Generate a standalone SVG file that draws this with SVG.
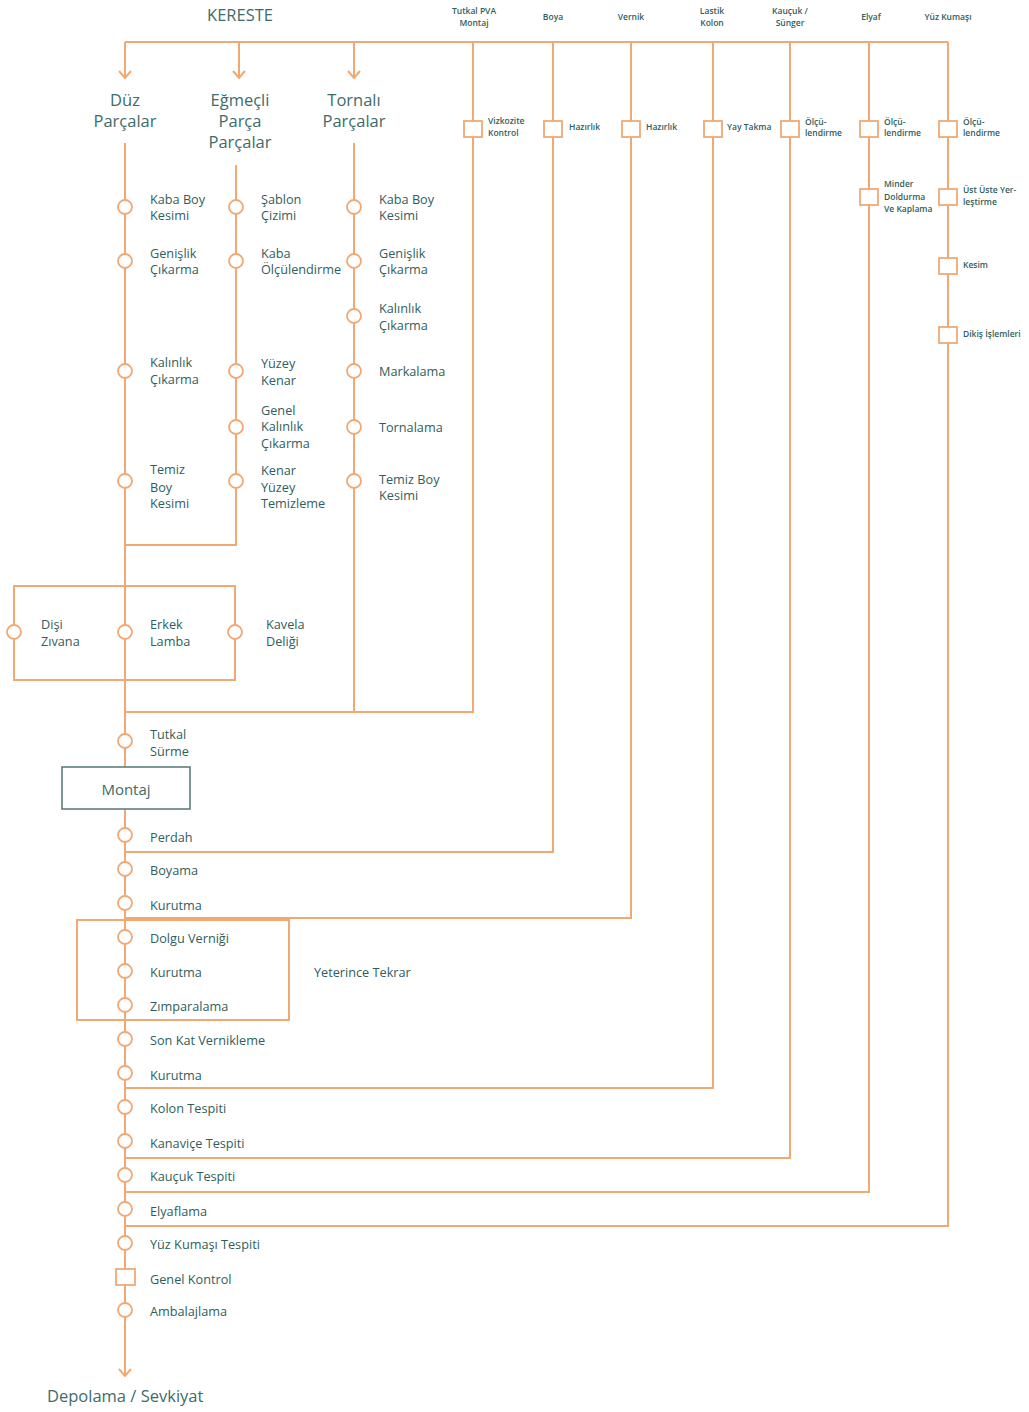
<svg xmlns="http://www.w3.org/2000/svg" width="1029" height="1412" viewBox="0 0 1029 1412">
<style>
.ln{stroke:#F2A873;stroke-width:2;fill:none}
.c{fill:#fff;stroke:#F2A873;stroke-width:1.8}
.sq{fill:#fff;stroke:#F2A873;stroke-width:1.8}
.t{font-family:"Open Sans","Noto Sans",sans-serif;font-size:12.7px;fill:#2F5E5C}
.h{font-family:"Open Sans","Noto Sans",sans-serif;font-size:16.5px;fill:#3E6C6A}
.s{font-family:"Open Sans","Noto Sans",sans-serif;font-size:8.5px;font-weight:600;fill:#2F5E5C}
.m{text-anchor:middle}
</style>
<defs>
<marker id="arr" markerWidth="14" markerHeight="10" refX="7" refY="9" orient="0" markerUnits="userSpaceOnUse">
<path d="M1,2 L7,9 L13,2" fill="none" stroke="#F2A873" stroke-width="2"/>
</marker>
</defs>
<rect width="1029" height="1412" fill="#fff"/>
<g id="connectors">
<path class="ln" d="M125,42 H948"/>
<path class="ln" d="M125,42 V78" marker-end="url(#arr)"/>
<path class="ln" d="M239,42 V78" marker-end="url(#arr)"/>
<path class="ln" d="M354,42 V78" marker-end="url(#arr)"/>
<path class="ln" d="M125,143 V1376" marker-end="url(#arr)"/>
<path class="ln" d="M236,165 V545 H125"/>
<path class="ln" d="M354,143 V712"/>
<path class="ln" d="M473,42 V712 H125"/>
<path class="ln" d="M553,42 V852 H125"/>
<path class="ln" d="M631,42 V918 H125"/>
<path class="ln" d="M713,42 V1088 H125"/>
<path class="ln" d="M790,42 V1158 H125"/>
<path class="ln" d="M869,42 V1192 H125"/>
<path class="ln" d="M948,42 V1226 H125"/>
<rect class="ln" x="14" y="586" width="221" height="94"/>
<rect class="ln" x="77" y="920" width="212" height="100"/>
</g>
<g id="top-labels">
<text class="h m" x="240" y="21">KERESTE</text>
<text class="s m" x="474" y="14">Tutkal PVA<tspan x="474" dy="12">Montaj</tspan></text>
<text class="s m" x="553" y="20">Boya</text>
<text class="s m" x="631" y="20">Vernik</text>
<text class="s m" x="712" y="14">Lastik<tspan x="712" dy="12">Kolon</tspan></text>
<text class="s m" x="790" y="14">Kauçuk /<tspan x="790" dy="12">Sünger</tspan></text>
<text class="s m" x="871" y="20">Elyaf</text>
<text class="s m" x="948" y="20">Yüz Kumaşı</text>
</g>
<g id="heads">
<text class="h m" x="125" y="106">Düz<tspan x="125" dy="21">Parçalar</tspan></text>
<text class="h m" x="240" y="106">Eğmeçli<tspan x="240" dy="21">Parça</tspan><tspan x="240" dy="21">Parçalar</tspan></text>
<text class="h m" x="354" y="106">Tornalı<tspan x="354" dy="21">Parçalar</tspan></text>
</g>
<g id="col1">
<circle class="c" cx="125" cy="207" r="7"/><text class="t" x="150" y="203.5">Kaba Boy<tspan x="150" dy="16">Kesimi</tspan></text>
<circle class="c" cx="125" cy="261" r="7"/><text class="t" x="150" y="257.5">Genişlik<tspan x="150" dy="16">Çıkarma</tspan></text>
<circle class="c" cx="125" cy="371" r="7"/><text class="t" x="150" y="367">Kalınlık<tspan x="150" dy="17">Çıkarma</tspan></text>
<circle class="c" cx="125" cy="481" r="7"/><text class="t" x="150" y="474">Temiz<tspan x="150" dy="17.5">Boy</tspan><tspan x="150" dy="16.5">Kesimi</tspan></text>
</g>
<g id="col2">
<circle class="c" cx="236" cy="207" r="7"/><text class="t" x="261" y="203.5">Şablon<tspan x="261" dy="16">Çizimi</tspan></text>
<circle class="c" cx="236" cy="261" r="7"/><text class="t" x="261" y="257.5">Kaba<tspan x="261" dy="16">Ölçülendirme</tspan></text>
<circle class="c" cx="236" cy="371" r="7"/><text class="t" x="261" y="368">Yüzey<tspan x="261" dy="17">Kenar</tspan></text>
<circle class="c" cx="236" cy="427" r="7"/><text class="t" x="261" y="414.5">Genel<tspan x="261" dy="16.5">Kalınlık</tspan><tspan x="261" dy="16.5">Çıkarma</tspan></text>
<circle class="c" cx="236" cy="481" r="7"/><text class="t" x="261" y="475">Kenar<tspan x="261" dy="16.5">Yüzey</tspan><tspan x="261" dy="16.5">Temizleme</tspan></text>
</g>
<g id="col3">
<circle class="c" cx="354" cy="207" r="7"/><text class="t" x="379" y="203.5">Kaba Boy<tspan x="379" dy="16">Kesimi</tspan></text>
<circle class="c" cx="354" cy="261" r="7"/><text class="t" x="379" y="257.5">Genişlik<tspan x="379" dy="16">Çıkarma</tspan></text>
<circle class="c" cx="354" cy="316" r="7"/><text class="t" x="379" y="313">Kalınlık<tspan x="379" dy="17">Çıkarma</tspan></text>
<circle class="c" cx="354" cy="371" r="7"/><text class="t" x="379" y="376">Markalama</text>
<circle class="c" cx="354" cy="427" r="7"/><text class="t" x="379" y="432">Tornalama</text>
<circle class="c" cx="354" cy="481" r="7"/><text class="t" x="379" y="483.5">Temiz Boy<tspan x="379" dy="16">Kesimi</tspan></text>
</g>
<g id="joinery">
<circle class="c" cx="14" cy="632" r="7"/><text class="t" x="41" y="629">Dişi<tspan x="41" dy="16.5">Zıvana</tspan></text>
<circle class="c" cx="125" cy="632" r="7"/><text class="t" x="150" y="629">Erkek<tspan x="150" dy="16.5">Lamba</tspan></text>
<circle class="c" cx="235" cy="632" r="7"/><text class="t" x="266" y="629">Kavela<tspan x="266" dy="16.5">Deliği</tspan></text>
</g>
<g id="right-steps">
<rect class="sq" x="464" y="121" width="18" height="16"/><text class="s" x="488" y="124">Vizkozite<tspan x="488" dy="12">Kontrol</tspan></text>
<rect class="sq" x="544" y="121" width="18" height="16"/><text class="s" x="569" y="130">Hazırlık</text>
<rect class="sq" x="622" y="121" width="18" height="16"/><text class="s" x="646" y="130">Hazırlık</text>
<rect class="sq" x="704" y="121" width="18" height="16"/><text class="s" x="727" y="130">Yay Takma</text>
<rect class="sq" x="781" y="121" width="18" height="16"/><text class="s" x="805" y="125">Ölçü-<tspan x="805" dy="11">lendirme</tspan></text>
<rect class="sq" x="860" y="121" width="18" height="16"/><text class="s" x="884" y="125">Ölçü-<tspan x="884" dy="11">lendirme</tspan></text>
<rect class="sq" x="939" y="121" width="18" height="16"/><text class="s" x="963" y="125">Ölçü-<tspan x="963" dy="11">lendirme</tspan></text>
<rect class="sq" x="860" y="189" width="18" height="16"/><text class="s" x="884" y="187">Minder<tspan x="884" dy="13">Doldurma</tspan><tspan x="884" dy="12">Ve Kaplama</tspan></text>
<rect class="sq" x="939" y="189" width="18" height="16"/><text class="s" x="963" y="193">Üst Üste Yer-<tspan x="963" dy="12">leştirme</tspan></text>
<rect class="sq" x="939" y="258" width="18" height="16"/><text class="s" x="963" y="268">Kesim</text>
<rect class="sq" x="939" y="327" width="18" height="16"/><text class="s" x="963" y="337">Dikiş İşlemleri</text>
</g>
<g id="main-line">
<circle class="c" cx="125" cy="741" r="7"/><text class="t" x="150" y="739">Tutkal<tspan x="150" dy="17">Sürme</tspan></text>
<g id="montaj"><rect x="62" y="767" width="128" height="42" fill="#fff" stroke="#5F7F7E" stroke-width="1.6"/><text class="h m" x="126" y="795" style="font-size:15px">Montaj</text></g>
<circle class="c" cx="125" cy="835" r="7"/><text class="t" x="150" y="842">Perdah</text>
<circle class="c" cx="125" cy="869" r="7"/><text class="t" x="150" y="875">Boyama</text>
<circle class="c" cx="125" cy="903" r="7"/><text class="t" x="150" y="910">Kurutma</text>
<circle class="c" cx="125" cy="937" r="7"/><text class="t" x="150" y="943">Dolgu Verniği</text>
<circle class="c" cx="125" cy="971" r="7"/><text class="t" x="150" y="977">Kurutma</text>
<circle class="c" cx="125" cy="1005" r="7"/><text class="t" x="150" y="1011">Zımparalama</text>
<text class="t" x="314" y="977">Yeterince Tekrar</text>
<circle class="c" cx="125" cy="1039" r="7"/><text class="t" x="150" y="1045">Son Kat Vernikleme</text>
<circle class="c" cx="125" cy="1073" r="7"/><text class="t" x="150" y="1080">Kurutma</text>
<circle class="c" cx="125" cy="1107" r="7"/><text class="t" x="150" y="1113">Kolon Tespiti</text>
<circle class="c" cx="125" cy="1141" r="7"/><text class="t" x="150" y="1148">Kanaviçe Tespiti</text>
<circle class="c" cx="125" cy="1175" r="7"/><text class="t" x="150" y="1181">Kauçuk Tespiti</text>
<circle class="c" cx="125" cy="1209" r="7"/><text class="t" x="150" y="1216">Elyaflama</text>
<circle class="c" cx="125" cy="1243" r="7"/><text class="t" x="150" y="1249">Yüz Kumaşı Tespiti</text>
<rect class="sq" x="116" y="1269" width="19" height="16"/><text class="t" x="150" y="1284">Genel Kontrol</text>
<circle class="c" cx="125" cy="1310" r="7"/><text class="t" x="150" y="1316">Ambalajlama</text>
<text class="h" x="47" y="1402">Depolama / Sevkiyat</text>
</g>
</svg>
